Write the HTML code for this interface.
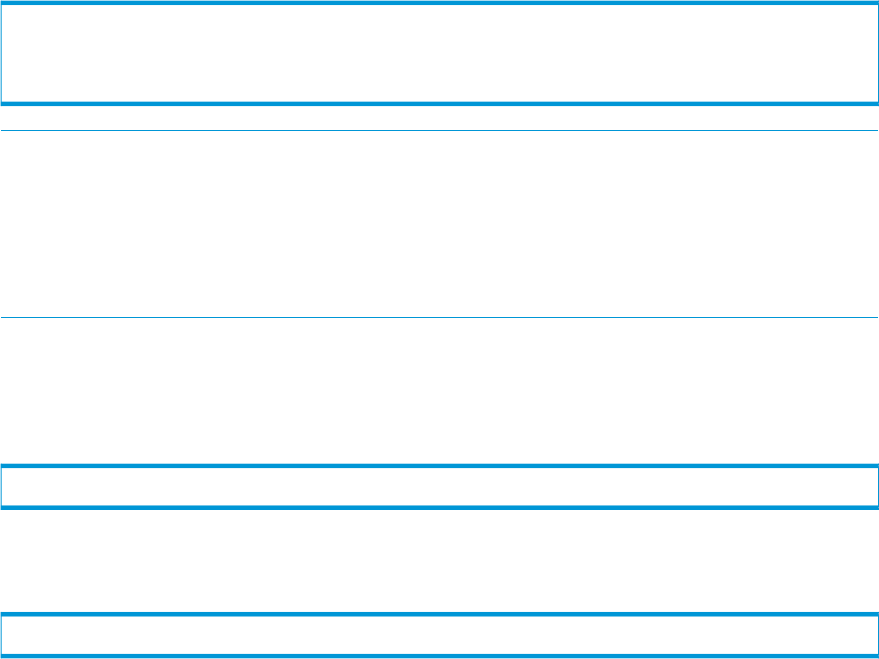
<!DOCTYPE html>
<html><head><meta charset="utf-8"><style>
html,body{margin:0;padding:0;background:#fff;width:879px;height:659px;overflow:hidden;font-family:"Liberation Sans",sans-serif}
div{position:absolute}
</style></head><body>
<div style="left:0px;top:0px;width:1px;height:1px;background:#dcf1f9"></div>
<div style="left:1px;top:0px;width:1px;height:1px;background:#83cceb"></div>
<div style="left:2px;top:0px;width:876px;height:1px;background:#a8dbf1"></div>
<div style="left:878px;top:0px;width:1px;height:1px;background:#6fc4e8"></div>
<div style="left:0px;top:1px;width:1px;height:1px;background:#9cd6ef"></div>
<div style="left:1px;top:1px;width:878px;height:1px;background:#0096d6"></div>
<div style="left:0px;top:2px;width:1px;height:1px;background:#9cd6ef"></div>
<div style="left:1px;top:2px;width:877px;height:1px;background:#0096d6"></div>
<div style="left:878px;top:2px;width:1px;height:1px;background:#38addf"></div>
<div style="left:0px;top:3px;width:1px;height:2px;background:#9cd6ef"></div>
<div style="left:1px;top:3px;width:878px;height:2px;background:#0096d6"></div>
<div style="left:0px;top:5px;width:1px;height:1px;background:#adddf2"></div>
<div style="left:1px;top:5px;width:1px;height:1px;background:#52b8e3"></div>
<div style="left:2px;top:5px;width:876px;height:1px;background:#f2fafd"></div>
<div style="left:878px;top:5px;width:1px;height:1px;background:#0096d6"></div>
<div style="left:0px;top:6px;width:1px;height:95px;background:#adddf2"></div>
<div style="left:1px;top:6px;width:1px;height:95px;background:#57bae4"></div>
<div style="left:878px;top:6px;width:1px;height:95px;background:#0096d6"></div>
<div style="left:0px;top:101px;width:1px;height:1px;background:#a7dbf1"></div>
<div style="left:1px;top:101px;width:1px;height:1px;background:#38addf"></div>
<div style="left:2px;top:101px;width:876px;height:1px;background:#a6daf1"></div>
<div style="left:878px;top:101px;width:1px;height:1px;background:#0096d6"></div>
<div style="left:0px;top:102px;width:1px;height:1px;background:#9cd6ef"></div>
<div style="left:1px;top:102px;width:878px;height:1px;background:#0096d6"></div>
<div style="left:0px;top:103px;width:1px;height:1px;background:#9cd6ef"></div>
<div style="left:1px;top:103px;width:877px;height:1px;background:#0096d6"></div>
<div style="left:878px;top:103px;width:1px;height:1px;background:#38addf"></div>
<div style="left:0px;top:104px;width:1px;height:1px;background:#9cd6ef"></div>
<div style="left:1px;top:104px;width:877px;height:1px;background:#0096d6"></div>
<div style="left:878px;top:104px;width:1px;height:1px;background:#149ed9"></div>
<div style="left:0px;top:105px;width:1px;height:1px;background:#9cd6ef"></div>
<div style="left:1px;top:105px;width:878px;height:1px;background:#0096d6"></div>
<div style="left:0px;top:106px;width:1px;height:1px;background:#f4fafd"></div>
<div style="left:1px;top:106px;width:1px;height:1px;background:#d6eef8"></div>
<div style="left:2px;top:106px;width:876px;height:1px;background:#e6f5fb"></div>
<div style="left:878px;top:106px;width:1px;height:1px;background:#cfebf7"></div>
<div style="left:1px;top:130px;width:877px;height:1px;background:#0096d6"></div>
<div style="left:1px;top:317px;width:877px;height:1px;background:#0096d6"></div>
<div style="left:0px;top:463px;width:1px;height:1px;background:#e0f2fa"></div>
<div style="left:1px;top:463px;width:1px;height:1px;background:#8fd1ed"></div>
<div style="left:2px;top:463px;width:876px;height:1px;background:#b2dff3"></div>
<div style="left:878px;top:463px;width:1px;height:1px;background:#7dc9ea"></div>
<div style="left:0px;top:464px;width:1px;height:1px;background:#9cd6ef"></div>
<div style="left:1px;top:464px;width:878px;height:1px;background:#0096d6"></div>
<div style="left:0px;top:465px;width:1px;height:1px;background:#9cd6ef"></div>
<div style="left:1px;top:465px;width:877px;height:1px;background:#0096d6"></div>
<div style="left:878px;top:465px;width:1px;height:1px;background:#38addf"></div>
<div style="left:0px;top:466px;width:1px;height:1px;background:#9cd6ef"></div>
<div style="left:1px;top:466px;width:877px;height:1px;background:#0096d6"></div>
<div style="left:878px;top:466px;width:1px;height:1px;background:#149ed9"></div>
<div style="left:0px;top:467px;width:1px;height:1px;background:#9cd6ef"></div>
<div style="left:1px;top:467px;width:878px;height:1px;background:#0096d6"></div>
<div style="left:0px;top:468px;width:1px;height:1px;background:#acddf2"></div>
<div style="left:1px;top:468px;width:1px;height:1px;background:#4eb6e3"></div>
<div style="left:2px;top:468px;width:876px;height:1px;background:#e5f4fb"></div>
<div style="left:878px;top:468px;width:1px;height:1px;background:#0096d6"></div>
<div style="left:0px;top:469px;width:1px;height:36px;background:#adddf2"></div>
<div style="left:1px;top:469px;width:1px;height:36px;background:#57bae4"></div>
<div style="left:878px;top:469px;width:1px;height:36px;background:#0096d6"></div>
<div style="left:0px;top:505px;width:1px;height:1px;background:#a4daf0"></div>
<div style="left:1px;top:505px;width:1px;height:1px;background:#27a6dc"></div>
<div style="left:2px;top:505px;width:876px;height:1px;background:#73c5e8"></div>
<div style="left:878px;top:505px;width:1px;height:1px;background:#0096d6"></div>
<div style="left:0px;top:506px;width:1px;height:1px;background:#9cd6ef"></div>
<div style="left:1px;top:506px;width:878px;height:1px;background:#0096d6"></div>
<div style="left:0px;top:507px;width:1px;height:1px;background:#9cd6ef"></div>
<div style="left:1px;top:507px;width:877px;height:1px;background:#0096d6"></div>
<div style="left:878px;top:507px;width:1px;height:1px;background:#40b0e0"></div>
<div style="left:0px;top:508px;width:1px;height:2px;background:#9cd6ef"></div>
<div style="left:1px;top:508px;width:878px;height:2px;background:#0096d6"></div>
<div style="left:0px;top:611px;width:1px;height:1px;background:#fafdfe"></div>
<div style="left:1px;top:611px;width:1px;height:1px;background:#eaf6fc"></div>
<div style="left:2px;top:611px;width:876px;height:1px;background:#f2fafd"></div>
<div style="left:878px;top:611px;width:1px;height:1px;background:#e6f5fb"></div>
<div style="left:0px;top:612px;width:1px;height:1px;background:#9cd6ef"></div>
<div style="left:1px;top:612px;width:878px;height:1px;background:#0096d6"></div>
<div style="left:0px;top:613px;width:1px;height:1px;background:#9cd6ef"></div>
<div style="left:1px;top:613px;width:877px;height:1px;background:#0096d6"></div>
<div style="left:878px;top:613px;width:1px;height:1px;background:#38addf"></div>
<div style="left:0px;top:614px;width:1px;height:1px;background:#9cd6ef"></div>
<div style="left:1px;top:614px;width:877px;height:1px;background:#0096d6"></div>
<div style="left:878px;top:614px;width:1px;height:1px;background:#149ed9"></div>
<div style="left:0px;top:615px;width:1px;height:1px;background:#9cd6ef"></div>
<div style="left:1px;top:615px;width:878px;height:1px;background:#0096d6"></div>
<div style="left:0px;top:616px;width:1px;height:1px;background:#a5daf1"></div>
<div style="left:1px;top:616px;width:1px;height:1px;background:#2ba8dd"></div>
<div style="left:2px;top:616px;width:876px;height:1px;background:#7fcaea"></div>
<div style="left:878px;top:616px;width:1px;height:1px;background:#0096d6"></div>
<div style="left:0px;top:617px;width:1px;height:36px;background:#adddf2"></div>
<div style="left:1px;top:617px;width:1px;height:36px;background:#57bae4"></div>
<div style="left:878px;top:617px;width:1px;height:36px;background:#0096d6"></div>
<div style="left:0px;top:653px;width:1px;height:1px;background:#acddf2"></div>
<div style="left:1px;top:653px;width:1px;height:1px;background:#4eb6e3"></div>
<div style="left:2px;top:653px;width:876px;height:1px;background:#e5f4fb"></div>
<div style="left:878px;top:653px;width:1px;height:1px;background:#0096d6"></div>
<div style="left:0px;top:654px;width:1px;height:1px;background:#9cd6ef"></div>
<div style="left:1px;top:654px;width:878px;height:1px;background:#0096d6"></div>
<div style="left:0px;top:655px;width:1px;height:1px;background:#9cd6ef"></div>
<div style="left:1px;top:655px;width:877px;height:1px;background:#0096d6"></div>
<div style="left:878px;top:655px;width:1px;height:1px;background:#38addf"></div>
<div style="left:0px;top:656px;width:1px;height:1px;background:#9cd6ef"></div>
<div style="left:1px;top:656px;width:877px;height:1px;background:#0096d6"></div>
<div style="left:878px;top:656px;width:1px;height:1px;background:#149ed9"></div>
<div style="left:0px;top:657px;width:1px;height:1px;background:#9cd6ef"></div>
<div style="left:1px;top:657px;width:878px;height:1px;background:#0096d6"></div>
<div style="left:0px;top:658px;width:1px;height:1px;background:#e0f2fa"></div>
<div style="left:1px;top:658px;width:1px;height:1px;background:#8fd1ed"></div>
<div style="left:2px;top:658px;width:876px;height:1px;background:#b3e0f3"></div>
<div style="left:878px;top:658px;width:1px;height:1px;background:#7dc9ea"></div>
</body></html>
